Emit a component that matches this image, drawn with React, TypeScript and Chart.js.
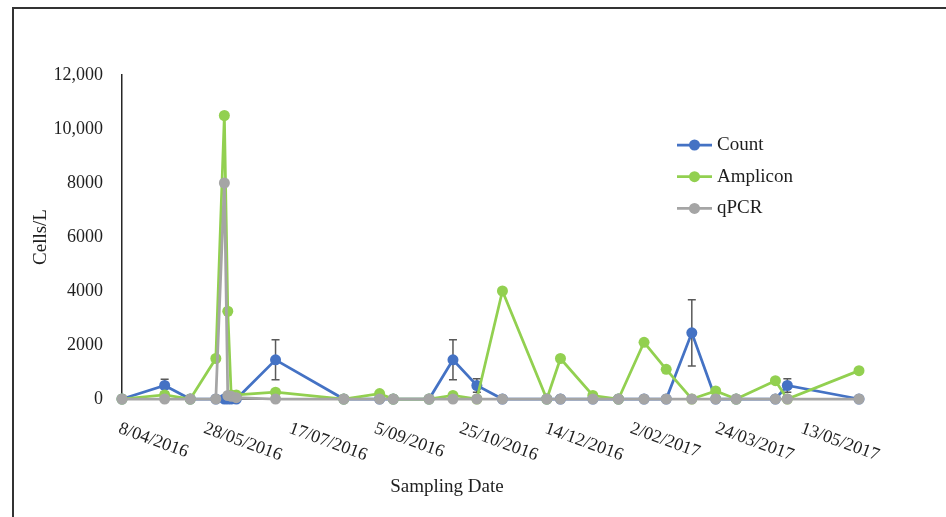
import React, { useEffect, useRef } from 'react';
import { Chart, registerables } from 'chart.js';

Chart.register(...registerables);

// ---------- data ----------
const sampleDates = [
  '2016-04-08', '2016-05-03', '2016-05-18', '2016-06-02', '2016-06-07', '2016-06-09', '2016-06-11',
  '2016-06-14', '2016-07-07', '2016-08-16', '2016-09-06', '2016-09-14', '2016-10-05', '2016-10-19',
  '2016-11-02', '2016-11-17', '2016-12-13', '2016-12-21', '2017-01-09', '2017-01-24', '2017-02-08',
  '2017-02-21', '2017-03-08', '2017-03-22', '2017-04-03', '2017-04-26', '2017-05-03', '2017-06-14',
];
const countValues = [
  0, 500, 0, 0, 0, 0, 0,
  0, 1450, 0, 0, 0, 0, 1450,
  500, 0, 0, 0, 0, 0, 0,
  0, 2450, 0, 0, 0, 500, 0,
];
const countErrors = [
  0, 230, 0, 0, 0, 0, 0,
  0, 740, 0, 0, 0, 0, 740,
  250, 0, 0, 0, 0, 0, 0,
  0, 1230, 0, 0, 0, 250, 0,
];
const ampliconValues = [
  0, 150, 0, 1500, 10500, 3250, 150,
  150, 250, 0, 200, 0, 0, 130,
  0, 4000, 0, 1500, 130, 0, 2100,
  1100, 0, 300, 0, 680, 0, 1050,
];
const qpcrValues = [
  0, 0, 0, 0, 8000, 130, 100,
  50, 0, 0, 0, 0, 0, 0,
  0, 0, 0, 0, 0, 0, 0,
  0, 0, 0, 0, 0, 0, 0,
];
const seriesNames = ['Count', 'Amplicon', 'qPCR'];
const seriesColors = ['#4472C4', '#92D050', '#A5A5A5'];
const xTickStepDays = 50;
const yMax = 12000;
const yStep = 2000;
const yTitle = 'Cells/L';
const xTitle = 'Sampling Date';

// ---------- helpers ----------
const DAY = 86400000;
const toDay = (s: string) => {
  const [y, m, d] = s.split('-').map(Number);
  return Date.UTC(y, m - 1, d) / DAY;
};
const baseDay = toDay(sampleDates[0]);
const xs = sampleDates.map((s) => toDay(s) - baseDay);
const fmtDate = (v: number) => {
  const dt = new Date((baseDay + v) * DAY);
  return `${dt.getUTCDate()}/${String(dt.getUTCMonth() + 1).padStart(2, '0')}/${dt.getUTCFullYear()}`;
};
const fmtY = (v: number) => (v >= 10000 ? v.toLocaleString('en-US') : String(v));

const FONT = "'Liberation Serif', 'Times New Roman', serif";
const TEXT = '#1e1e1e';

const customPlugin = {
  id: 'customDecor',
  beforeDatasetsDraw(chart: any) {
    const { ctx } = chart;
    const xS = chart.scales.x;
    const yS = chart.scales.y;
    ctx.save();
    ctx.strokeStyle = '#595959';
    ctx.lineWidth = 1.5;
    xs.forEach((x, i) => {
      const e = countErrors[i];
      if (!e) return;
      const px = xS.getPixelForValue(x);
      const t = yS.getPixelForValue(countValues[i] + e);
      const b = yS.getPixelForValue(Math.max(0, countValues[i] - e));
      ctx.beginPath();
      ctx.moveTo(px, t);
      ctx.lineTo(px, b);
      ctx.moveTo(px - 4, t);
      ctx.lineTo(px + 4, t);
      ctx.moveTo(px - 4, b);
      ctx.lineTo(px + 4, b);
      ctx.stroke();
    });
    ctx.restore();
  },
  afterDraw(chart: any) {
    const { ctx, chartArea } = chart;
    const xS = chart.scales.x;
    ctx.save();
    // rotated date tick labels
    ctx.fillStyle = TEXT;
    ctx.font = `18px ${FONT}`;
    ctx.textAlign = 'left';
    ctx.textBaseline = 'middle';
    for (let v = 0; v <= xS.max; v += xTickStepDays) {
      const px = xS.getPixelForValue(v);
      ctx.save();
      ctx.translate(px - 3, chartArea.bottom + 29);
      ctx.rotate((20 * Math.PI) / 180);
      ctx.fillText(fmtDate(v), 0, 0);
      ctx.restore();
    }
    // x axis title
    ctx.font = `19px ${FONT}`;
    ctx.textAlign = 'center';
    ctx.fillText(xTitle, 447, 487);
    // legend
    const lx = 677;
    chart.data.datasets.forEach((ds: any, i: number) => {
      const y = 145 + i * 31.7;
      ctx.strokeStyle = ds.borderColor;
      ctx.lineWidth = 2.75;
      ctx.beginPath();
      ctx.moveTo(lx, y);
      ctx.lineTo(lx + 35, y);
      ctx.stroke();
      ctx.fillStyle = ds.borderColor;
      ctx.beginPath();
      ctx.arc(lx + 17.5, y, 5.5, 0, Math.PI * 2);
      ctx.fill();
      ctx.fillStyle = TEXT;
      ctx.font = `19px ${FONT}`;
      ctx.textAlign = 'left';
      ctx.fillText(ds.label, lx + 40, y);
    });
    ctx.restore();
  },
};

export default function App() {
  const canvasRef = useRef<HTMLCanvasElement | null>(null);

  useEffect(() => {
    if (!canvasRef.current) return;
    const seriesValues = [countValues, ampliconValues, qpcrValues];
    const chart = new Chart(canvasRef.current, {
      type: 'line',
      data: {
        datasets: seriesNames.map((name, si) => ({
          label: name,
          data: xs.map((x, i) => ({ x, y: seriesValues[si][i] })),
          borderColor: seriesColors[si],
          backgroundColor: seriesColors[si],
          pointBackgroundColor: seriesColors[si],
          pointBorderColor: seriesColors[si],
          borderWidth: 2.75,
          pointRadius: 5.5,
          pointBorderWidth: 0,
          tension: 0,
          fill: false,
          clip: false,
          order: 3 - si,
        })),
      },
      options: {
        animation: false,
        responsive: false,
        devicePixelRatio: 1,
        layout: { padding: { left: 0, top: 75, right: 87, bottom: 0 } },
        plugins: {
          legend: { display: false },
          tooltip: { enabled: false },
          title: { display: false },
        },
        scales: {
          x: {
            type: 'linear',
            position: 'bottom',
            min: 0,
            max: xs[xs.length - 1],
            grid: { display: false, drawTicks: false },
            border: { display: true, color: '#7f7f7f', width: 1 },
            ticks: { display: false, stepSize: xTickStepDays },
            afterFit: (s: any) => {
              s.height = 118;
            },
          },
          y: {
            type: 'linear',
            min: 0,
            max: yMax,
            grid: { display: false, drawTicks: false },
            border: { display: true, color: '#262626', width: 1.5 },
            ticks: {
              stepSize: yStep,
              padding: 19,
              color: TEXT,
              font: { family: FONT, size: 18 },
              callback: (v: any) => fmtY(Number(v)),
            },
            title: {
              display: true,
              text: yTitle,
              color: TEXT,
              font: { family: FONT, size: 19 },
              padding: { top: 30, bottom: 0 },
            },
            afterFit: (s: any) => {
              s.width = 122;
            },
          },
        },
      },
      plugins: [customPlugin],
    });
    return () => chart.destroy();
  }, []);

  return (
    <div style={{ position: 'absolute', left: 0, top: 0, width: 946, height: 517, background: '#fff', overflow: 'hidden' }}>
      <div
        style={{
          position: 'absolute',
          left: 12,
          top: 7,
          width: 934,
          height: 510,
          borderLeft: '2px solid #333',
          borderTop: '2px solid #333',
          boxSizing: 'border-box',
        }}
      />
      <canvas ref={canvasRef} width={946} height={517} style={{ position: 'absolute', left: 0, top: 0 }} />
    </div>
  );
}
